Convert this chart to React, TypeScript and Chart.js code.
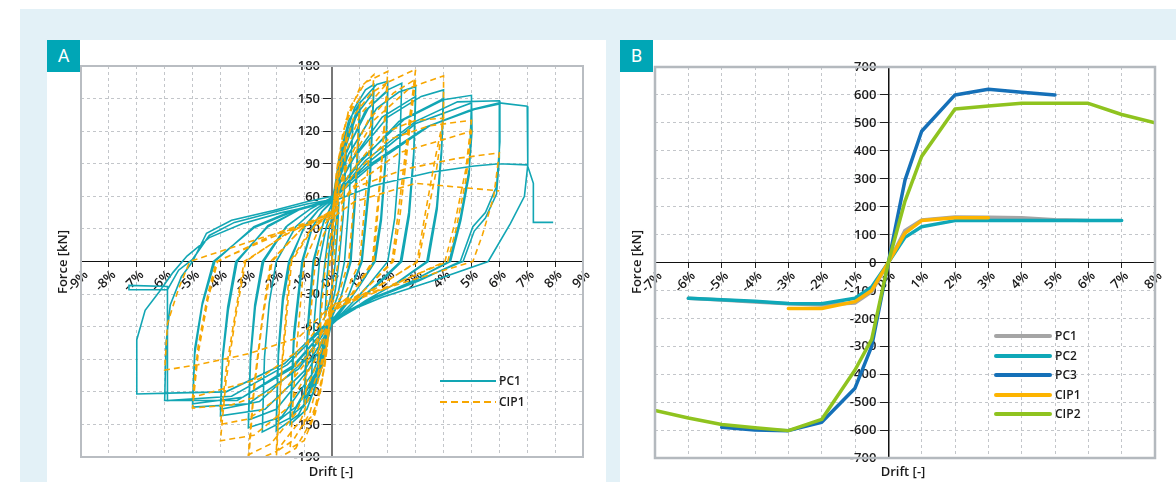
import React, { useEffect, useRef } from 'react';
import { Chart, registerables } from 'chart.js';

Chart.register(...registerables);

// ---------- Panel A: tick values / labels ----------
const driftTickValuesA = [-9, -8, -7, -6, -5, -4, -3, -2, -1, 0, 1, 2, 3, 4, 5, 6, 7, 8, 9];
const driftTickLabelsA = ['-9%', '-8%', '-7%', '-6%', '-5%', '-4%', '-3%', '-2%', '-1%', '0%', '1%', '2%', '3%', '4%', '5%', '6%', '7%', '8%', '9%'];
const forceTickValuesA = [-180, -150, -120, -90, -60, -30, 0, 30, 60, 90, 120, 150, 180];
const forceTickLabelsA = ['-190', '-150', '-120', '-90', '-60', '-30', '0', '30', '60', '90', '120', '150', '180'];

// ---------- Panel A: PC1 hysteresis (drift %, force kN), cycle by cycle ----------
const pc1Cycle025 = [[0, 0], [0.1, 28], [0.25, 55], [0.18, 22], [0.1, -5], [0, -24], [-0.1, -38], [-0.25, -50], [-0.18, -16], [-0.1, 10], [0, 26]];
const pc1Cycle050 = [[0.2, 66], [0.35, 86], [0.5, 95], [0.4, 42], [0.25, 0], [0.12, -26], [0, -40], [-0.2, -66], [-0.35, -80], [-0.5, -88], [-0.4, -36], [-0.25, 0], [-0.12, 26], [0, 42]];
const pc1Cycle075 = [[0.2, 80], [0.45, 110], [0.75, 125], [0.62, 60], [0.45, 0], [0.2, -32], [0, -46], [-0.3, -86], [-0.55, -105], [-0.75, -113], [-0.62, -50], [-0.45, 0], [-0.2, 32], [0, 48]];
const pc1Cycle100 = [[0.25, 95], [0.6, 130], [1.0, 146], [0.85, 70], [0.65, 0], [0.3, -35], [0, -50], [-0.35, -96], [-0.7, -122], [-1.0, -133], [-0.85, -60], [-0.65, 0], [-0.3, 37], [0, 52],
  [0.3, 92], [0.65, 123], [1.0, 139], [0.86, 65], [0.68, 0], [0.3, -34], [0, -51], [-0.4, -93], [-0.75, -116], [-1.0, -127], [-0.86, -55], [-0.68, 0], [-0.3, 36], [0, 53]];
const pc1Cycle150 = [[0.3, 100], [0.8, 141], [1.2, 158], [1.5, 163], [1.36, 82], [1.05, 0], [0.5, -38], [0, -54], [-0.4, -101], [-0.9, -136], [-1.5, -150], [-1.36, -72], [-1.05, 0], [-0.7, 32], [-0.35, 46], [0, 55],
  [0.4, 99], [0.9, 136], [1.5, 156], [1.37, 76], [1.08, 0], [0.5, -37], [0, -55], [-0.5, -101], [-1.0, -132], [-1.5, -143], [-1.37, -66], [-1.08, 0], [-0.72, 31], [-0.36, 46], [0, 56]];
const pc1Cycle200 = [[0.4, 106], [1.0, 146], [1.6, 163], [2.0, 166], [1.92, 96], [1.75, 40], [1.5, 0], [1.0, -22], [0.5, -40], [0, -56], [-0.5, -106], [-1.2, -141], [-2.0, -156], [-1.92, -86], [-1.75, -36], [-1.5, 0], [-1.0, 32], [-0.5, 47], [0, 57],
  [0.5, 99], [1.2, 139], [2.0, 157], [1.92, 90], [1.77, 38], [1.55, 0], [1.0, -22], [0.5, -40], [0, -57], [-0.6, -103], [-1.3, -134], [-2.0, -148], [-1.92, -80], [-1.77, -33], [-1.55, 0], [-1.0, 31], [-0.5, 47], [0, 57]];
const pc1Cycle250 = [[0.5, 101], [1.3, 141], [2.0, 158], [2.5, 164], [2.42, 95], [2.25, 40], [2.0, 0], [1.3, -22], [0.65, -40], [0, -57], [-0.6, -106], [-1.5, -144], [-2.5, -157], [-2.42, -88], [-2.25, -38], [-2.0, 0], [-1.3, 32], [-0.65, 47], [0, 58]];
const pc1Cycle300 = [[0.6, 99], [1.6, 141], [2.4, 156], [3.0, 161], [2.93, 100], [2.75, 45], [2.45, 0], [1.6, -21], [0.8, -39], [0, -58], [-0.7, -103], [-1.8, -143], [-3.0, -153], [-2.92, -90], [-2.75, -42], [-2.45, 0], [-1.6, 33], [-0.8, 48], [0, 59],
  [0.7, 93], [1.8, 133], [3.0, 152], [2.93, 95], [2.77, 42], [2.5, 0], [1.65, -21], [0.8, -39], [0, -58], [-0.8, -98], [-2.0, -136], [-3.0, -146], [-2.92, -85], [-2.77, -40], [-2.5, 0], [-1.65, 32], [-0.8, 48], [0, 59]];
const pc1Cycle400 = [[0.8, 96], [2.0, 133], [3.2, 152], [4.0, 158], [3.93, 105], [3.75, 50], [3.4, 0], [2.3, -20], [1.2, -36], [0, -57], [-1.0, -101], [-2.4, -136], [-4.0, -142], [-3.92, -90], [-3.72, -45], [-3.4, 0], [-2.3, 33], [-1.15, 48], [0, 58],
  [1.0, 91], [2.4, 129], [4.0, 150], [3.93, 100], [3.77, 48], [3.45, 0], [2.3, -20], [1.2, -36], [0, -57], [-1.2, -96], [-2.6, -129], [-4.0, -136], [-3.92, -86], [-3.74, -42], [-3.45, 0], [-2.3, 32], [-1.15, 48], [0, 58]];
const pc1Cycle500 = [[1.0, 93], [2.6, 131], [4.0, 149], [5.0, 153], [5.02, 120], [4.92, 85], [4.6, 40], [4.2, 0], [2.8, -19], [1.4, -35], [0, -56], [-1.2, -99], [-3.0, -131], [-5.0, -134], [-4.92, -85], [-4.65, -40], [-4.2, 0], [-2.8, 32], [-1.4, 47], [0, 57],
  [1.2, 89], [3.0, 127], [5.0, 146], [4.92, 80], [4.62, 38], [4.25, 0], [2.8, -19], [1.4, -35], [0, -55], [-1.4, -96], [-3.2, -125], [-5.0, -131], [-4.92, -80], [-4.65, -38], [-4.25, 0], [-2.8, 31], [-1.4, 46], [0, 56]];
const pc1Cycle600 = [[1.2, 93], [3.0, 129], [4.5, 147], [6.0, 148], [6.02, 110], [5.9, 69], [5.5, 45], [5.05, 32], [4.6, 0], [3.1, -18], [1.5, -34], [0, -54], [-1.4, -98], [-3.4, -128], [-6.0, -128], [-5.95, -75], [-5.8, -40], [-5.4, -14], [-5.0, 0], [-4.5, 26], [-3.6, 38], [-2.1, 47], [-0.9, 55], [0, 60],
  [1.4, 90], [3.4, 124], [5.1, 140], [6.0, 145], [6.0, 95], [5.9, 62], [5.5, 40], [5.1, 28], [4.7, 0], [3.1, -17], [1.5, -33], [0, -53], [-1.6, -95], [-3.6, -124], [-5.9, -128], [-5.9, -23], [-7.28, -22], [-7.28, -26], [-5.9, -26], [-5.5, -8], [-5.0, 2], [-4.4, 24], [-3.5, 36], [-2.0, 46], [-0.9, 53], [0, 57]];
const pc1Cycle700 = [[1.5, 90], [3.5, 125], [5.0, 140], [6.0, 146], [7.0, 143], [7.02, 89], [6.9, 60], [6.4, 35], [5.6, 0], [3.7, -17], [1.8, -33], [0, -52], [-1.7, -94], [-3.8, -120], [-5.5, -121], [-7.0, -122], [-7.0, -72], [-6.7, -45], [-6.2, -28], [-5.7, -10], [-5.2, 5], [-4.4, 22], [-3.2, 35], [-1.8, 45], [0, 55],
  [1.5, 70], [3.5, 82], [5.1, 88], [6.0, 90], [7.0, 89], [7.22, 72], [7.22, 36], [7.93, 36]];

// ---------- Panel A: CIP1 hysteresis ----------
const cip1Cycle025 = [[0, 0], [0.1, 40], [0.25, 70], [0.15, 25], [0.05, -5], [0, -20], [-0.1, -45], [-0.25, -65], [-0.15, -20], [-0.05, 5], [0, 20]];
const cip1Cycle050 = [[0.15, 70], [0.3, 100], [0.5, 115], [0.38, 50], [0.22, 0], [0.1, -20], [0, -30], [-0.15, -70], [-0.3, -95], [-0.5, -105], [-0.38, -45], [-0.22, 0], [-0.1, 20], [0, 30]];
const cip1Cycle100 = [[0.15, 80], [0.4, 120], [0.7, 140], [1.0, 150], [0.85, 75], [0.6, 0], [0.3, -25], [0, -38], [-0.2, -85], [-0.45, -125], [-0.75, -143], [-1.0, -150], [-0.85, -75], [-0.6, 0], [-0.3, 25], [0, 38]];
const cip1Cycle150 = [[0.2, 90], [0.5, 130], [1.0, 160], [1.5, 172], [1.3, 90], [1.0, 0], [0.5, -28], [0, -42], [-0.25, -95], [-0.6, -140], [-1.0, -165], [-1.5, -172], [-1.3, -90], [-1.0, 0], [-0.5, 28], [0, 42]];
const cip1Cycle200 = [[0.25, 95], [0.6, 140], [1.2, 165], [2.0, 175], [1.8, 100], [1.45, 0], [0.7, -30], [0, -45], [-0.3, -100], [-0.7, -145], [-1.3, -172], [-2.0, -182], [-1.8, -100], [-1.45, 0], [-0.7, 30], [0, 45],
  [0.3, 90], [0.8, 135], [1.4, 155], [2.0, 165], [1.8, 95], [1.5, 0], [0.75, -30], [0, -46], [-0.35, -95], [-0.8, -140], [-1.4, -165], [-2.0, -175], [-1.8, -95], [-1.5, 0], [-0.75, 30], [0, 46]];
const cip1Cycle300 = [[0.35, 90], [1.0, 135], [2.0, 165], [3.0, 177], [2.7, 115], [2.4, 50], [2.15, 0], [1.1, -28], [0, -47], [-0.4, -95], [-1.1, -145], [-2.0, -175], [-3.0, -186], [-2.8, -120], [-2.5, -55], [-2.15, 0], [-1.1, 30], [0, 47],
  [0.45, 85], [1.3, 130], [2.2, 155], [3.0, 168], [2.72, 108], [2.45, 45], [2.2, 0], [1.1, -28], [0, -47], [-0.5, -92], [-1.3, -140], [-2.2, -168], [-3.0, -178], [-2.8, -115], [-2.5, -52], [-2.2, 0], [-1.1, 30], [0, 47]];
const cip1Cycle400 = [[0.5, 85], [1.5, 130], [2.8, 160], [4.0, 171], [4.0, 132], [3.7, 95], [3.35, 45], [3.05, 0], [1.5, -26], [0, -46], [-0.6, -90], [-1.6, -135], [-2.8, -160], [-4.0, -165], [-3.8, -110], [-3.45, -50], [-3.1, 0], [-1.5, 28], [0, 46],
  [0.6, 80], [1.8, 118], [3.0, 130], [4.0, 132], [3.75, 85], [3.4, 40], [3.1, 0], [1.5, -25], [0, -45], [-0.7, -85], [-1.9, -125], [-3.0, -145], [-4.0, -150], [-3.8, -100], [-3.45, -45], [-3.15, 0], [-1.5, 27], [0, 45]];
const cip1Cycle500 = [[0.7, 78], [2.0, 112], [3.5, 125], [5.0, 130], [4.8, 85], [4.4, 35], [4.05, 0], [2.0, -24], [0, -44], [-0.8, -85], [-2.2, -120], [-3.6, -132], [-5.0, -135], [-4.8, -85], [-4.45, -35], [-4.1, 0], [-2.0, 26], [0, 44],
  [0.8, 70], [2.4, 100], [5.0, 120], [4.8, 75], [4.45, 30], [4.15, 0], [2.0, -23], [0, -42], [-1.0, -78], [-2.6, -108], [-5.0, -125], [-4.8, -78], [-4.45, -30], [-4.15, 0], [-2.0, 24], [0, 42]];
const cip1Cycle600 = [[0.8, 68], [2.6, 85], [4.5, 95], [6.0, 100], [5.8, 60], [5.4, 25], [5.05, 0], [2.5, -20], [0, -40], [-1.2, -70], [-3.0, -85], [-4.8, -95], [-6.0, -100], [-5.9, -57], [-5.5, -25], [-5.1, 0], [-2.5, 22], [0, 40],
  [0.8, 55], [3.0, 72], [6.0, 65]];

const pc1Cycles = [pc1Cycle025, pc1Cycle050, pc1Cycle075, pc1Cycle100, pc1Cycle150, pc1Cycle200, pc1Cycle250, pc1Cycle300, pc1Cycle400, pc1Cycle500, pc1Cycle600, pc1Cycle700];
const cip1Cycles = [cip1Cycle025, cip1Cycle050, cip1Cycle100, cip1Cycle150, cip1Cycle200, cip1Cycle300, cip1Cycle400, cip1Cycle500, cip1Cycle600];

// ---------- Panel B ----------
const driftTickValuesB = [-7, -6, -5, -4, -3, -2, -1, 0, 1, 2, 3, 4, 5, 6, 7, 8];
const driftTickLabelsB = ['-7%', '-6%', '-5%', '-4%', '-3%', '-2%', '-1%', '0%', '1%', '2%', '3%', '4%', '5%', '6%', '7%', '8%'];
const forceTickValuesB = [-700, -600, -500, -400, -300, -200, -100, 0, 100, 200, 300, 400, 500, 600, 700];
const forceTickLabelsB = ['-700', '-600', '-500', '-400', '-300', '-200', '-100', '0', '100', '200', '300', '400', '500', '600', '700'];

const driftB = [-7, -6, -5, -4, -3, -2, -1, -0.5, 0, 0.5, 1, 2, 3, 4, 5, 6, 7, 8];
const pc1B = [null, -128, -134, -141, -148, -152, -145, -105, 0, 115, 152, 163, 162, 160, 153, 150, null, null];
const pc2B = [null, -128, -133, -139, -147, -148, -128, -88, 0, 90, 128, 150, 150, 150, 150, 150, 150, null];
const pc3B = [null, null, -590, -600, -602, -572, -450, -300, 0, 295, 470, 600, 620, 610, 600, null, null, null];
const cip1B = [null, null, null, null, -165, -165, -140, -100, 0, 105, 150, 160, 160, null, null, null, null, null];
const cip2B = [-530, -557, -580, -592, -602, -562, -385, -275, 0, 220, 380, 550, 560, 570, 570, 570, 530, 500];

const TEAL_A = '#12a6b4';
const ORANGE_A = '#f7a600';
const C_PC1 = '#a5a5a5';
const C_PC2 = '#0fa8b8';
const C_PC3 = '#1570b8';
const C_CIP1 = '#fdb400';
const C_CIP2 = '#8fc31f';

const FONT = "'Open Sans', sans-serif";
const tickFont = { family: FONT, size: 13, weight: '600' as const };

const toPoints = (cycles: number[][][]) => cycles.flat().map(([x, y]) => ({ x, y }));
const seriesB = (vals: (number | null)[]) =>
  driftB.map((x, i) => ({ x, y: vals[i] })).filter((p) => p.y !== null) as { x: number; y: number }[];

const framePlugin = (color: string, width: number) => ({
  id: 'frame',
  afterDraw(chart: any) {
    const { ctx, chartArea } = chart;
    const { left, top, right, bottom } = chartArea;
    ctx.save();
    ctx.strokeStyle = color;
    ctx.lineWidth = width;
    ctx.strokeRect(left, top, right - left, bottom - top);
    ctx.restore();
  },
});

// y tick labels placed left of the crossing y-axis (Chart.js puts them on the axis line itself)
const yLabelPlugin = (values: number[], labels: string[]) => ({
  id: 'ylabels',
  beforeDatasetsDraw(chart: any) {
    const { ctx, scales } = chart;
    const x0 = scales.x.getPixelForValue(0) - 8 - 4;
    ctx.save();
    ctx.font = `600 13px ${FONT}`;
    ctx.fillStyle = '#1a1a1a';
    ctx.textAlign = 'right';
    ctx.textBaseline = 'middle';
    values.forEach((v, i) => ctx.fillText(labels[i], x0, scales.y.getPixelForValue(v) + 0.5));
    ctx.restore();
  },
});

function makeScales(xVals: number[], xLabels: string[], yVals: number[], yAxisColor: string, yAxisWidth: number) {
  return {
    x: {
      type: 'linear' as const,
      min: xVals[0],
      max: xVals[xVals.length - 1],
      position: { y: 0 },
      afterBuildTicks: (s: any) => { s.ticks = xVals.map((v) => ({ value: v })); },
      ticks: {
        autoSkip: false, minRotation: 45, maxRotation: 45, padding: 1, labelOffset: 5,
        color: '#1a1a1a', font: tickFont,
        callback: (_v: any, i: number) => xLabels[i],
      },
      grid: { color: '#c3c6ca', lineWidth: 1, tickLength: 5, tickColor: '#222', tickWidth: 1 },
      border: { display: true, color: '#111', width: 1, dash: [3, 3] },
    },
    y: {
      type: 'linear' as const,
      min: yVals[0],
      max: yVals[yVals.length - 1],
      position: { x: 0 },
      afterBuildTicks: (s: any) => { s.ticks = yVals.map((v) => ({ value: v })); },
      ticks: { display: false, autoSkip: false },
      grid: { color: '#c3c6ca', lineWidth: 1, tickLength: 8, tickColor: '#222', tickWidth: 1 },
      border: { display: true, color: yAxisColor, width: yAxisWidth, dash: [3, 3] },
    },
  };
}

function ChartA() {
  const ref = useRef<HTMLCanvasElement>(null);
  useEffect(() => {
    const chart = new Chart(ref.current!, {
      type: 'scatter',
      data: {
        datasets: [
          { label: 'PC1', data: toPoints(pc1Cycles), showLine: true, borderColor: TEAL_A, borderWidth: 1.6, pointRadius: 0, order: 2 },
          { label: 'CIP1', data: toPoints(cip1Cycles), showLine: true, borderColor: ORANGE_A, borderWidth: 1.6, borderDash: [6, 4], pointRadius: 0, order: 1 },
        ],
      },
      options: {
        animation: false,
        responsive: false,
        maintainAspectRatio: false,
        layout: { padding: { left: 34, top: 26, right: 23, bottom: 25 } },
        plugins: { legend: { display: false }, tooltip: { enabled: false } },
        scales: makeScales(driftTickValuesA, driftTickLabelsA, forceTickValuesA, '#777', 2) as any,
      },
      plugins: [yLabelPlugin(forceTickValuesA, forceTickLabelsA), framePlugin('#b9bdc2', 2)],
    });
    return () => chart.destroy();
  }, []);
  return <canvas ref={ref} width={559} height={442} style={{ position: 'absolute', left: 0, top: 0 }} />;
}

function ChartB() {
  const ref = useRef<HTMLCanvasElement>(null);
  useEffect(() => {
    const line = (label: string, vals: (number | null)[], color: string, order: number) => ({
      label, data: seriesB(vals), showLine: true, borderColor: color, borderWidth: 3.5,
      borderCapStyle: 'round' as const, borderJoinStyle: 'round' as const, pointRadius: 0, order,
    });
    const chart = new Chart(ref.current!, {
      type: 'scatter',
      data: {
        datasets: [
          line('PC1', pc1B, C_PC1, 5),
          line('PC2', pc2B, C_PC2, 4),
          line('PC3', pc3B, C_PC3, 3),
          line('CIP1', cip1B, C_CIP1, 2),
          line('CIP2', cip2B, C_CIP2, 1),
        ],
      },
      options: {
        animation: false,
        responsive: false,
        maintainAspectRatio: false,
        layout: { padding: { left: 35, top: 27, right: 21, bottom: 24 } },
        plugins: { legend: { display: false }, tooltip: { enabled: false } },
        scales: makeScales(driftTickValuesB, driftTickLabelsB, forceTickValuesB, '#111', 1.5) as any,
      },
      plugins: [yLabelPlugin(forceTickValuesB, forceTickLabelsB), framePlugin('#b4b9be', 2.5)],
    });
    return () => chart.destroy();
  }, []);
  return <canvas ref={ref} width={556} height={442} style={{ position: 'absolute', left: 0, top: 0 }} />;
}

const txt: React.CSSProperties = { position: 'absolute', fontFamily: FONT, fontWeight: 600, color: '#1a1a1a', whiteSpace: 'nowrap' };

function LegendRow({ x, y, label, color, dashed, thick }: { x: number; y: number; label: string; color: string; dashed?: boolean; thick?: boolean }) {
  const h = thick ? 4 : 2;
  const w = thick ? 58 : 56;
  return (
    <>
      <div style={{
        position: 'absolute', left: x, top: y - h / 2, width: w, height: h, borderRadius: thick ? 2 : 0,
        background: dashed ? `repeating-linear-gradient(to right, ${color} 0 7px, transparent 7px 11px)` : color,
      }} />
      <div style={{ ...txt, left: x + w + 3, top: y - 9, lineHeight: '18px', fontSize: 12 }}>{label}</div>
    </>
  );
}

export default function App() {
  return (
    <div style={{ position: 'fixed', left: 0, top: 0, width: 1176, height: 482, background: '#fff', overflow: 'hidden' }}>
      <div style={{ position: 'absolute', left: 20, top: 9, right: 0, bottom: 0, background: '#e3f1f7' }} />
      <div style={{ position: 'absolute', left: 47, top: 40, width: 559, height: 442, background: '#fff' }}>
        <ChartA />
      </div>
      <div style={{ position: 'absolute', left: 620, top: 40, width: 556, height: 442, background: '#fff' }}>
        <ChartB />
      </div>
      <div style={{ position: 'absolute', left: 47, top: 40, width: 33, height: 32, background: '#00a6b6', color: '#fff', fontFamily: 'Roboto, sans-serif', fontSize: 18, lineHeight: '32px', textAlign: 'center' }}>A</div>
      <div style={{ position: 'absolute', left: 620, top: 40, width: 33, height: 32, background: '#00a6b6', color: '#fff', fontFamily: 'Roboto, sans-serif', fontSize: 18, lineHeight: '32px', textAlign: 'center' }}>B</div>

      <div style={{ ...txt, left: 62, top: 262, fontSize: 13, transform: 'translate(-50%, -50%) rotate(-90deg)' }}>Force [kN]</div>
      <div style={{ ...txt, left: 331, top: 471, fontSize: 13, transform: 'translate(-50%, -50%)' }}>Drift [-]</div>
      <div style={{ ...txt, left: 636, top: 262, fontSize: 13, transform: 'translate(-50%, -50%) rotate(-90deg)' }}>Force [kN]</div>
      <div style={{ ...txt, left: 903, top: 471, fontSize: 13, transform: 'translate(-50%, -50%)' }}>Drift [-]</div>

      <LegendRow x={440} y={381} label="PC1" color={TEAL_A} />
      <LegendRow x={440} y={402} label="CIP1" color={ORANGE_A} dashed />

      <LegendRow x={994} y={336} label="PC1" color={C_PC1} thick />
      <LegendRow x={994} y={355.5} label="PC2" color={C_PC2} thick />
      <LegendRow x={994} y={375} label="PC3" color={C_PC3} thick />
      <LegendRow x={994} y={394.5} label="CIP1" color={C_CIP1} thick />
      <LegendRow x={994} y={414} label="CIP2" color={C_CIP2} thick />
    </div>
  );
}
